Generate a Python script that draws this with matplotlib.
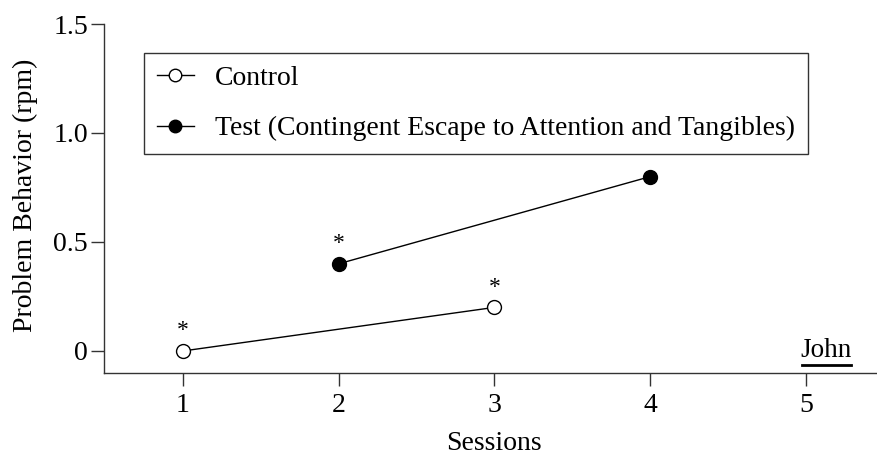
import matplotlib
matplotlib.use("Agg")
import matplotlib.pyplot as plt
from matplotlib.lines import Line2D

plt.rcParams['font.family'] = ['Liberation Serif', 'DejaVu Serif']

# Data
control_sessions = [1, 3]
control_values = [0.0, 0.2]
test_sessions = [2, 4]
test_values = [0.4, 0.8]
starred_control = [1, 3]
starred_test = [2]
x_ticks = [1, 2, 3, 4, 5]
y_ticks = [0, 0.5, 1.0, 1.5]
y_tick_labels = ['0', '0.5', '1.0', '1.5']
participant = 'John'

fig = plt.figure(figsize=(8.77, 4.59), dpi=100)
ax = fig.add_axes([104/877, (459-373)/459, (877-104)/877, (373-24)/459])

ax.plot(control_sessions, control_values, color='black', lw=1,
        marker='o', markersize=10, markerfacecolor='white',
        markeredgecolor='black', markeredgewidth=1, label='Control', zorder=3)
ax.plot(test_sessions, test_values, color='black', lw=1,
        marker='o', markersize=10, markerfacecolor='black',
        markeredgecolor='black', label='Test (Contingent Escape to Attention and Tangibles)', zorder=3)

for s, v in zip(control_sessions, control_values):
    if s in starred_control:
        ax.annotate('*', (s, v), xytext=(0, 7), textcoords='offset points',
                    ha='center', va='bottom', fontsize=17)
for s, v in zip(test_sessions, test_values):
    if s in starred_test:
        ax.annotate('*', (s, v), xytext=(0, 7), textcoords='offset points',
                    ha='center', va='bottom', fontsize=17)

ax.set_xlim(0.493, 5.456)
ax.set_ylim(-0.101, 1.5)
ax.set_xticks(x_ticks)
ax.set_yticks(y_ticks)
ax.set_yticklabels(y_tick_labels)
ax.tick_params(axis='both', direction='out', length=9.5, width=1, labelsize=20,
               color='#333333')
ax.tick_params(axis='x', pad=5)
ax.tick_params(axis='y', pad=2)
for side in ['top', 'right']:
    ax.spines[side].set_visible(False)
for side in ['left', 'bottom']:
    ax.spines[side].set_linewidth(1)
    ax.spines[side].set_color('#333333')

ax.set_xlabel('Sessions', fontsize=20)
ax.xaxis.set_label_coords(0.505, -0.166)
ax.set_ylabel('Problem Behavior (rpm)', fontsize=20)
ax.yaxis.set_label_coords(-0.086, 0.51)

john = ax.text(5.13, 0.0, participant, ha='center', va='center', fontsize=19.5)

leg = ax.legend(loc='upper left', bbox_to_anchor=(0.052, 0.917), borderaxespad=0,
                fontsize=20, frameon=True, fancybox=False, edgecolor='black',
                handlelength=1.35, handletextpad=0.75, labelspacing=0.9,
                borderpad=0.45, markerscale=0.9)
leg.get_frame().set_linewidth(1)

# underline under participant name
fig.canvas.draw()
bb = john.get_window_extent(renderer=fig.canvas.get_renderer())
inv = fig.transFigure.inverted()
(x0, y0) = inv.transform((bb.x0 + 1, bb.y0 - 2))
(x1, _) = inv.transform((bb.x1 - 1, bb.y0 - 2))
fig.add_artist(Line2D([x0, x1], [y0, y0], transform=fig.transFigure,
                      color='black', lw=2))

fig.savefig('out.png', dpi=100)
